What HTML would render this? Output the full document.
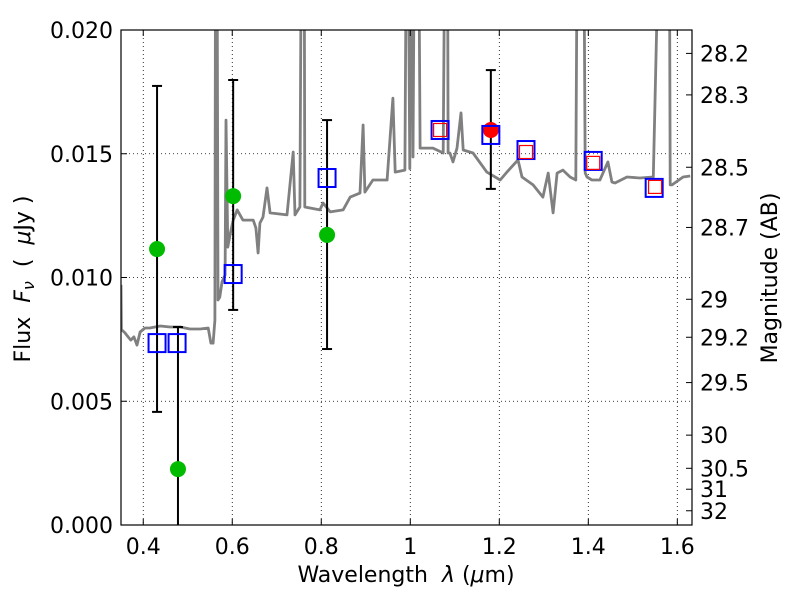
<!DOCTYPE html>
<html><head><meta charset="utf-8"><style>
body{margin:0;background:#fff;width:800px;height:600px;overflow:hidden;position:relative}
svg{font-family:"DejaVu Sans","Liberation Sans",sans-serif}
.pre{white-space:pre}
</style></head><body>
<svg id="chart" width="800" height="600" viewBox="0 0 800 600" xmlns="http://www.w3.org/2000/svg" style="position:absolute;left:0;top:0"></svg>
<script>
const specW=[0.350,0.351,0.359,0.366,0.372,0.379,0.386,0.393,0.404,0.415,0.438,0.460,0.483,0.505,0.528,0.546,0.552,0.557,0.561,0.563,0.565,0.568,0.572,0.577,0.584,0.586,0.590,0.595,0.602,0.611,0.624,0.633,0.647,0.653,0.658,0.662,0.669,0.678,0.685,0.723,0.737,0.741,0.752,0.757,0.761,0.763,0.797,0.804,0.820,0.849,0.865,0.887,0.894,0.898,0.916,0.948,0.961,0.966,0.988,0.993,0.999,1.004,1.006,1.011,1.017,1.022,1.029,1.051,1.074,1.080,1.083,1.085,1.089,1.096,1.105,1.114,1.119,1.141,1.172,1.202,1.217,1.242,1.251,1.276,1.298,1.310,1.321,1.330,1.343,1.359,1.372,1.377,1.381,1.388,1.393,1.397,1.408,1.426,1.444,1.453,1.460,1.487,1.516,1.546,1.566,1.570,1.573,1.581,1.584,1.588,1.613,1.629,1.633];
const specF=[0.0097,0.0079,0.00776,0.0076,0.00747,0.0076,0.00727,0.0078,0.00796,0.00796,0.00804,0.0080,0.0080,0.00792,0.00792,0.00796,0.00735,0.00735,0.00828,0.030,0.030,0.00909,0.00921,0.00982,0.0101,0.01636,0.01123,0.01172,0.01232,0.01273,0.01232,0.01232,0.01232,0.01200,0.01099,0.0122,0.01244,0.01362,0.01261,0.01253,0.01507,0.01253,0.01285,0.030,0.030,0.01285,0.01273,0.01301,0.01265,0.01273,0.01325,0.01341,0.01616,0.01345,0.01394,0.01394,0.01725,0.01426,0.01434,0.030,0.01440,0.030,0.01487,0.030,0.030,0.01523,0.01523,0.01523,0.01503,0.030,0.030,0.01503,0.01503,0.01467,0.01523,0.01665,0.01515,0.01503,0.01426,0.01394,0.01426,0.01475,0.01406,0.01374,0.01325,0.01422,0.01261,0.01422,0.01434,0.01406,0.01394,0.030,0.030,0.030,0.01422,0.01406,0.01394,0.01394,0.01467,0.01386,0.01382,0.01406,0.01402,0.01406,0.030,0.030,0.030,0.030,0.01374,0.01374,0.01406,0.01410];
const greenW=[0.431,0.478,0.602,0.813];
const greenF=[0.01115,0.00226,0.01329,0.01172];
const errW=[0.431,0.478,0.602,0.813,1.181];
const errLo=[0.00457,-0.001,0.00869,0.00711,0.01358];
const errHi=[0.01774,0.0080,0.01798,0.01636,0.01838];
const redW=[1.181];const redF=[0.01596];
const blueW=[0.431,0.476,0.602,0.813,1.067,1.181,1.260,1.411,1.548];
const blueF=[0.00735,0.00735,0.01014,0.01402,0.01596,0.01576,0.01515,0.01471,0.01362];
const redSqW=[1.067,1.260,1.411,1.550];
const redSqF=[0.01596,0.01507,0.01463,0.01366];
const xTicks=[0.4,0.6,0.8,1.0,1.2,1.4,1.6];
const xTickLabels=["0.4","0.6","0.8","1","1.2","1.4","1.6"];
const yTicks=[0,0.005,0.010,0.015,0.020];
const yTickLabels=["0.000","0.005","0.010","0.015","0.020"];
const magTicks=[28.2,28.3,28.5,28.7,29,29.2,29.5,30,30.5,31,32];

const L=121,R=692,T=30,B=525,X0=0.35,X1=1.633,Y0=0,Y1=0.020;
const sx=w=>L+(w-X0)/(X1-X0)*(R-L);
const sy=f=>B-(f-Y0)/(Y1-Y0)*(B-T);
const NS="http://www.w3.org/2000/svg";
const svg=document.getElementById('chart');
function mk(t,a,p){const e=document.createElementNS(NS,t);for(const k in a)e.setAttribute(k,a[k]);(p||svg).appendChild(e);return e;}
const defs=mk('defs',{});const cp=mk('clipPath',{id:'clip'},defs);mk('rect',{x:L,y:T,width:R-L,height:B-T},cp);
const plot=mk('g',{'clip-path':'url(#clip)'});


xTicks.forEach(v=>{const g=mk('line',{x1:sx(v),x2:sx(v),y1:T,y2:B,stroke:'#000','stroke-width':0.8,'stroke-dasharray':'1,3'},plot);

});
yTicks.forEach(v=>{const g=mk('line',{x1:L,x2:R,y1:sy(v),y2:sy(v),stroke:'#000','stroke-width':0.8,'stroke-dasharray':'1,3'},plot);

});
let d='';specW.forEach((w,i)=>{d+=(i?'L':'M')+sx(w).toFixed(1)+','+sy(specF[i]).toFixed(1);});
const sp=mk('path',{d:d,fill:'none',stroke:'#808080','stroke-width':2.8,'stroke-linejoin':'round'},plot);


errW.forEach((w,i)=>{const x=sx(w),y1=sy(errLo[i]),y2=sy(errHi[i]);
const g=mk('g',{stroke:'#000','stroke-width':2},plot);


mk('line',{x1:x,x2:x,y1:y1,y2:y2},g);mk('line',{x1:x-5,x2:x+5,y1:y1,y2:y1},g);mk('line',{x1:x-5,x2:x+5,y1:y2,y2:y2},g);});
greenW.forEach((w,i)=>{const c=mk('circle',{cx:sx(w),cy:sy(greenF[i]),r:8,fill:'#00bb00'},plot);

});
redW.forEach((w,i)=>{const c=mk('circle',{cx:sx(w),cy:sy(redF[i]),r:8,fill:'#ff0000'},plot);

});
blueW.forEach((w,i)=>{const r=mk('rect',{x:sx(w)-8.5,y:sy(blueF[i])-9,width:17,height:18,fill:'none',stroke:'#0000ff','stroke-width':2},plot);

});
redSqW.forEach((w,i)=>{const r=mk('rect',{x:sx(w)-6.5,y:sy(redSqF[i])-6.5,width:13,height:13,fill:'none',stroke:'#ff0000','stroke-width':1.2},plot);

});
const fr=mk('rect',{x:L,y:T,width:R-L,height:B-T,fill:'none',stroke:'#000','stroke-width':1.2});


xTicks.forEach((v,i)=>{const x=sx(v);mk('line',{x1:x,x2:x,y1:B,y2:B-6,stroke:'#000'});mk('line',{x1:x,x2:x,y1:T,y2:T+6,stroke:'#000'});
const t=mk('text',{x:x,y:B+29,'font-size':22,'text-anchor':'middle'});t.textContent=xTickLabels[i];

});
yTicks.forEach((v,i)=>{const y=sy(v);mk('line',{x1:L,x2:L+6,y1:y,y2:y,stroke:'#000'});
const t=mk('text',{x:L-8,y:y+8,'font-size':22,'text-anchor':'end'});t.textContent=yTickLabels[i];

});
magTicks.forEach(m=>{const f=Math.pow(10,(23.9-m)/2.5);const y=sy(f);mk('line',{x1:R,x2:R-6,y1:y,y2:y,stroke:'#000'});
const t=mk('text',{x:R+8,y:y+8,'font-size':22});t.textContent=String(m);

});
const yt=mk('text',{transform:'translate(30,279) rotate(-90)','font-size':22,'text-anchor':'middle','class':'pre'});


yt.innerHTML='Flux  <tspan font-style="italic">F</tspan><tspan font-style="italic" font-size="16" dy="4">ν</tspan><tspan dy="-4">  (  </tspan><tspan font-style="italic">μ</tspan>Jy )';
const y2=mk('text',{transform:'translate(777,278) rotate(-90)','font-size':22,'text-anchor':'middle'});


y2.textContent='Magnitude (AB)';
const xt=mk('text',{x:406,y:582,'font-size':22,'text-anchor':'middle','class':'pre'});


xt.innerHTML='Wavelength  <tspan font-style="italic">λ</tspan> (<tspan font-style="italic">μ</tspan>m)';
</script>
</body></html>
